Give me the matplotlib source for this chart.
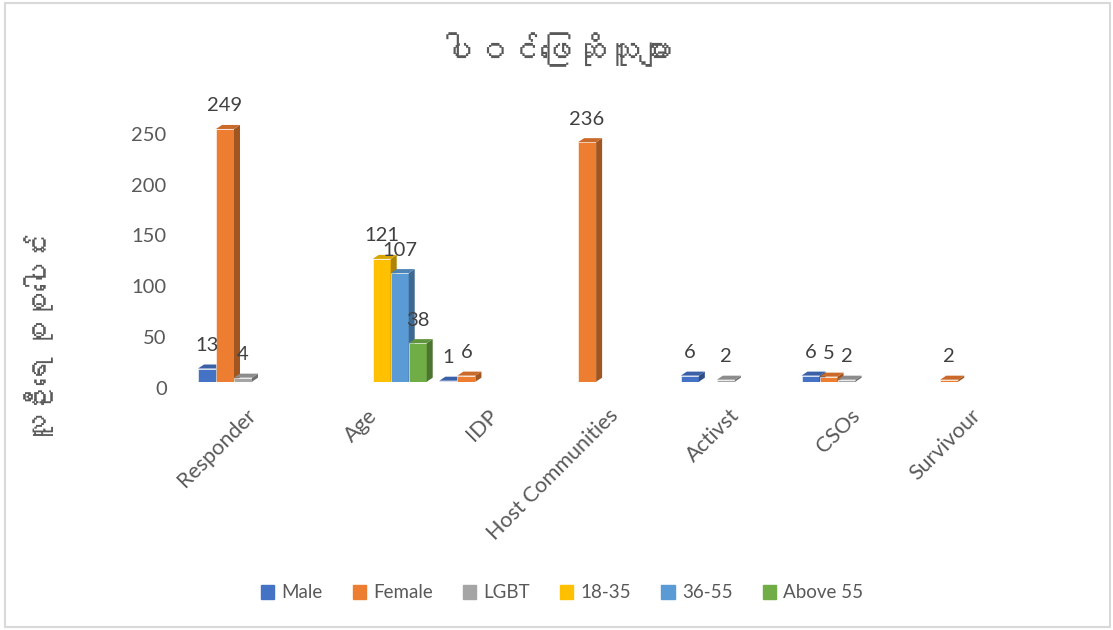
import numpy as np
import matplotlib
matplotlib.use("Agg")
import matplotlib.pyplot as plt
from matplotlib import font_manager, transforms
from matplotlib.ft2font import FT2Font
from matplotlib.patches import Polygon, Rectangle
import matplotlib.colors as mcolors

categories = ["Responder", "Age", "IDP", "Host Communities", "Activst", "CSOs", "Survivour"]
series_names = ["Male", "Female", "LGBT", "18-35", "36-55", "Above 55"]
male = [13, None, 1, None, 6, 6, None]
female = [249, None, 6, 236, None, 5, 2]
lgbt = [4, None, None, None, 2, 2, None]
age_18_35 = [None, 121, None, None, None, None, None]
age_36_55 = [None, 107, None, None, None, None, None]
age_above_55 = [None, 38, None, None, None, None, None]
series = [male, female, lgbt, age_18_35, age_36_55, age_above_55]
colors = ["#4472C4", "#ED7D31", "#A5A5A5", "#FFC000", "#5B9BD5", "#70AD47"]

title = "ပါဝင်ဖြေဆိုသူများ"
ylabel = "လူဦးရေ စုစုပေါင်း"


def find_font(ch):
    # look for any installed font that has the glyph
    for f in font_manager.fontManager.ttflist:
        try:
            if ord(ch) in FT2Font(f.fname).get_charmap():
                return f.name
        except Exception:
            pass
    return None

mm = find_font("ပ")
fams = ["Lato"] + ([mm] if mm else []) + ["DejaVu Sans"]
plt.rcParams["font.family"] = fams

gray = "#595959"
W, H = 1113, 630
fig = plt.figure(figsize=(W / 100, H / 100), dpi=100)

# axes placed in pixel units
x0, x1 = 191.65, 1036.6
ybot, ytop = 381.7, 381.7 - 250 * 1.015
ax = fig.add_axes([x0 / W, 1 - ybot / H, (x1 - x0) / W, (ybot - ytop) / H])
ax.set_xlim(-0.5, len(categories) - 0.5)
ax.set_ylim(0, 250)

w = 18 / 120.7          # slot width in data units
dx = 6 / 120.7          # depth offset x
dy = 4 / 1.015          # depth offset y


def shade(c, f):
    r, g, b = mcolors.to_rgb(c)
    return (r * f, g * f, b * f)

z = 2
for i in range(len(categories)):
    for k, vals in enumerate(series):
        v = vals[i]
        if v is None:
            continue
        x = i + (k - 3) * w
        c = colors[k]
        ax.bar(x, v, width=w, align="edge", color=c, edgecolor="white",
               linewidth=0.4, zorder=z)
        side = [(x + w, 0), (x + w + dx, dy), (x + w + dx, v + dy), (x + w, v)]
        top = [(x, v), (x + dx, v + dy), (x + w + dx, v + dy), (x + w, v)]
        ax.add_patch(Polygon(side, closed=True, facecolor=shade(c, 0.68),
                             edgecolor="none", zorder=z + 0.1, clip_on=False))
        ax.add_patch(Polygon(top, closed=True, facecolor=shade(c, 0.85),
                             edgecolor="none", zorder=z + 0.2, clip_on=False))
        ax.annotate(str(v), xy=(x + w / 2, v), xytext=(0, 23),
                    textcoords="offset pixels", ha="center", va="center",
                    fontsize=14.5, color="#404040", zorder=20)
        z += 1

for s in ax.spines.values():
    s.set_visible(False)
ax.set_yticks([0, 50, 100, 150, 200, 250])
ax.tick_params(axis="y", length=0, labelsize=14.5, labelcolor=gray, pad=18)
ax.set_xticks(range(len(categories)))
ax.set_xticklabels(categories, rotation=45, ha="right", va="top",
                   rotation_mode="anchor", fontsize=15.5, color=gray)
ax.tick_params(axis="x", length=0, pad=17)
off = transforms.ScaledTranslation(0, -6 / 100, fig.dpi_scale_trans)
for lab in ax.get_yticklabels():
    lab.set_transform(lab.get_transform() + off)
offx = transforms.ScaledTranslation(-6 / 100, 0, fig.dpi_scale_trans)
for lab in ax.get_xticklabels():
    lab.set_transform(lab.get_transform() + offx)

fig.text(0.5, 1 - 50 / H, title, ha="center", va="center", fontsize=24,
         fontweight="bold", color=gray)
fig.text(40 / W, 1 - 338 / H, ylabel, ha="center", va="center", rotation=90,
         fontsize=21, fontweight="bold", color=gray)

handles = [Rectangle((0, 0), 1, 1, color=c) for c in colors]
fig.legend(handles, series_names, loc="center", bbox_to_anchor=(0.505, 1 - 593 / H),
           ncol=6, frameon=False, fontsize=13.5, handlelength=0.7, handleheight=0.7,
           handletextpad=0.4, columnspacing=1.6, labelcolor=gray)

fig.patches.append(Rectangle((5 / W, 3 / H), 1105 / W, 624 / H, transform=fig.transFigure,
                             fill=False, edgecolor="#D9D9D9", linewidth=1.5))

fig.savefig("out.png", dpi=100)
